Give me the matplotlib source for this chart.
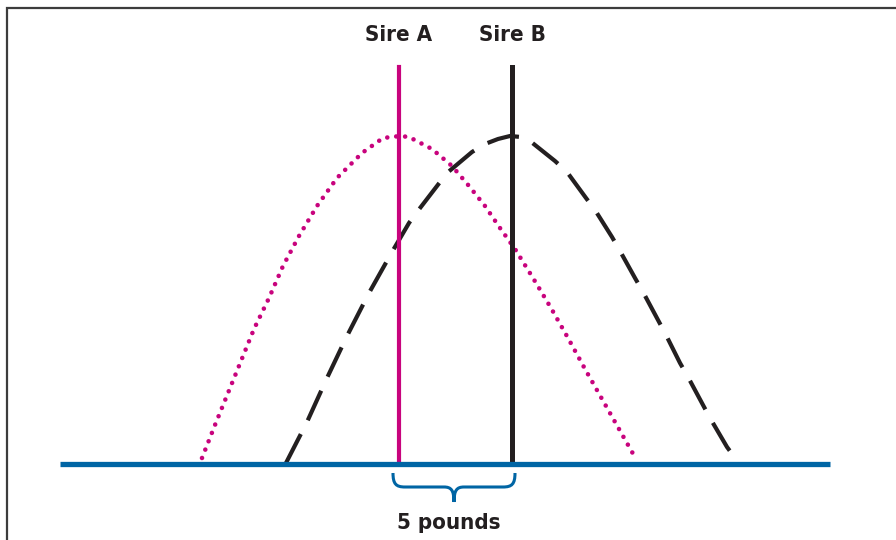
import numpy as np
import matplotlib
matplotlib.use('Agg')
import matplotlib.pyplot as plt
from matplotlib.path import Path
from matplotlib.patches import PathPatch
from matplotlib import font_manager

sire_a_x = 399
sire_b_x = 512
sire_top = 473
base_h = 76
base_start = 60
base_end = 830

# Sire A offspring distribution (dotted)
a_x = [202, 215, 228, 241, 254, 269, 283, 299, 317, 337, 362, 383, 400, 409, 432, 452, 469, 485,
       500, 515, 533, 551, 568, 585, 602, 619, 636]
a_h = [82, 115, 147, 179, 211, 242, 274, 304, 334, 362, 387, 402, 404, 403, 391, 374, 354, 334,
       312, 291, 262, 232, 202, 171, 141, 111, 81]

# Sire B offspring distribution (dashed)
b_x = [286, 307, 327, 347, 369, 392, 409, 417, 447, 472, 485, 498, 510, 521, 530, 555, 567, 586,
       595, 612, 620, 635, 643, 658, 665, 680, 688, 703, 710, 727, 738]
b_h = [77, 118, 162, 204, 247, 288, 317, 328, 367, 388, 396, 401, 404, 403, 399, 379, 368, 342,
       330, 303, 289, 262, 248, 220, 207, 177, 163, 135, 122, 93, 78]

labels = ['Sire A', 'Sire B']
gap_label = '5 pounds'

magenta = '#c8037d'
black = '#231f20'
blue = '#0065a4'

# a narrow bold face if one is around
names = {f.name for f in font_manager.fontManager.ttflist}
if 'Liberation Sans Narrow' in names:
    fonts = ['Liberation Sans Narrow', 'DejaVu Sans']
    stretch = 'normal'
else:
    fonts = ['DejaVu Sans']
    stretch = 'condensed'

fig = plt.figure(figsize=(8.96, 5.4), dpi=100)
ax = fig.add_axes([0, 0, 1, 1])
ax.set_xlim(0, 896)
ax.set_ylim(0, 540)
ax.axis('off')

# page border (only top and left edge show)
ax.plot([7, 7, 900], [-5, 532, 532], color='#3c3c3c', lw=1.6, solid_joinstyle='miter', zorder=1)

ax.plot(a_x, a_h, color=magenta, lw=3.3, linestyle=(0, (0.01, 1.95)),
        dash_capstyle='round', solid_joinstyle='round', zorder=2)
ax.plot(b_x, b_h, color=black, lw=3.0, linestyle=(0, (7.8, 3.7)), zorder=2)

ax.plot([sire_a_x, sire_a_x], [base_h, sire_top], color=magenta, lw=3.0, zorder=3)
ax.plot([sire_b_x, sire_b_x], [base_h, sire_top], color=black, lw=3.6, zorder=3)
ax.plot([base_start, base_end], [base_h, base_h], color=blue, lw=3.8, solid_capstyle='butt', zorder=4)

for xs, lab in zip([sire_a_x, sire_b_x], labels):
    ax.text(xs, 505, lab, ha='center', va='center', fontsize=16, fontweight='bold',
            family=fonts, fontstretch=stretch, color=black)

# curly brace under the gap between the sires
x0 = sire_a_x - 6
x1 = sire_b_x + 3
xm = (x0 + x1) / 2
yt, ym, yp = 67, 53, 38
verts = [(x0, yt), (x0, ym + 3), (x0 + 3, ym), (x0 + 12, ym),
         (xm - 10, ym),
         (xm - 3, ym), (xm, ym - 3), (xm, yp),
         (xm, ym - 3), (xm + 3, ym), (xm + 10, ym),
         (x1 - 12, ym),
         (x1 - 3, ym), (x1, ym + 3), (x1, yt)]
codes = [Path.MOVETO, Path.CURVE4, Path.CURVE4, Path.CURVE4,
         Path.LINETO,
         Path.CURVE4, Path.CURVE4, Path.CURVE4,
         Path.CURVE4, Path.CURVE4, Path.CURVE4,
         Path.LINETO,
         Path.CURVE4, Path.CURVE4, Path.CURVE4]
ax.add_patch(PathPatch(Path(verts, codes), facecolor='none', edgecolor=blue, lw=2.2, zorder=4))

ax.text(xm - 5, 17, gap_label, ha='center', va='center', fontsize=16, fontweight='bold',
        family=fonts, fontstretch=stretch, color=black)

fig.savefig('out.png', dpi=100)
